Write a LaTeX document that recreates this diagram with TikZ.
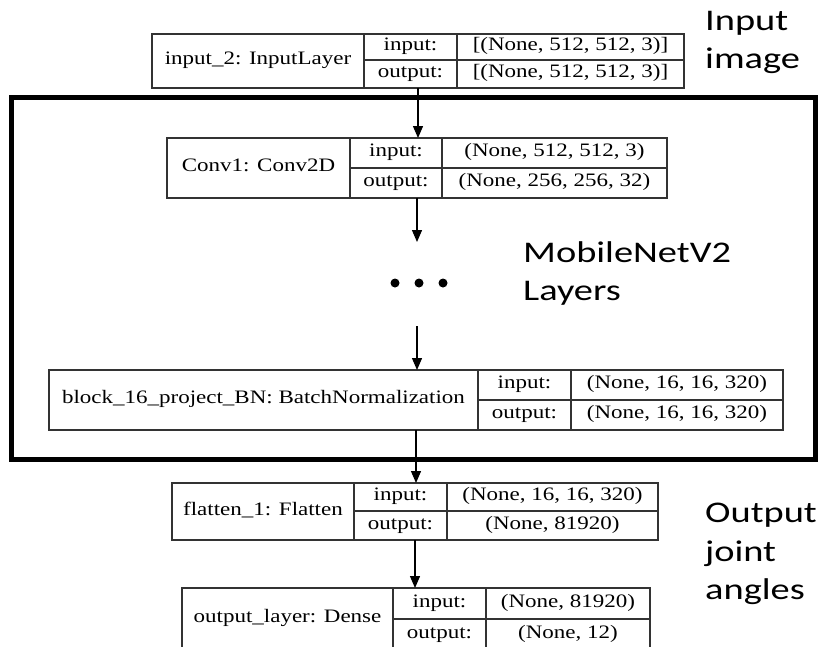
\documentclass[tikz,border=0pt]{standalone}
\usepackage{fontspec}
\usetikzlibrary{arrows.meta}
\newfontfamily\kerasfont[FakeStretch=1.21]{Liberation Serif}
\newfontfamily\notefont[FakeStretch=1.28]{Carlito}

\tikzset{
  layerbox/.style={draw=black!80, line width=1.2pt, inner sep=0pt, outer sep=0pt, anchor=north west},
  cell/.style={draw=black!80, line width=1.2pt},
  celltext/.style={font=\kerasfont\fontsize{19}{19}\selectfont, inner sep=0pt,
                   text height=12pt, text depth=5pt, anchor=center},
  flow/.style={draw=black, line width=1.3pt, -{Triangle[length=12pt,width=10pt]}},
  note/.style={font=\notefont\fontsize{30}{36}\selectfont, inner sep=0pt, anchor=base west},
  groupframe/.style={draw=black, line width=5pt, inner sep=0pt, outer sep=0pt, anchor=north west},
  dot/.style={fill=black},
}

% Keras-style layer record: name | input:/output: | shapes
% #1 node name; #2 left; #3 first divider; #4 second divider; #5 right;
% #6 top; #7 row split; #8 bottom
\newcommand{\layergrid}[8]{%
  \node[layerbox, minimum width={#5-#2}, minimum height={#8-#6}] (#1) at (#2,#6) {};
  \draw[cell] (#3,#6) -- (#3,#8) (#4,#6) -- (#4,#8) (#3,#7) -- (#5,#7);
  \coordinate (#1-name)   at ({(#2+#3)/2},{(#6+#8)/2});
  \coordinate (#1-inkey)  at ({(#3+#4)/2},{(#6+#7)/2});
  \coordinate (#1-inval)  at ({(#4+#5)/2},{(#6+#7)/2});
  \coordinate (#1-outkey) at ({(#3+#4)/2},{(#7+#8)/2});
  \coordinate (#1-outval) at ({(#4+#5)/2},{(#7+#8)/2});
}
% #1 node name; #2 layer label; #3 input shape; #4 output shape
\newcommand{\layertext}[4]{%
  \node[celltext] (#1-label) at (#1-name) {#2};
  \node[celltext] (#1-ik) at (#1-inkey) {input:};
  \node[celltext] (#1-iv) at (#1-inval) {#3};
  \node[celltext] (#1-ok) at (#1-outkey) {output:};
  \node[celltext] (#1-ov) at (#1-outval) {#4};
}

\begin{document}
\begin{tikzpicture}[x=1pt, y=-1pt]
  \clip (0,0) rectangle (818,646);
  \fill[white] (0,0) rectangle (818,646);

  % backbone group
  \node[groupframe, minimum width=804, minimum height=362] (backbone) at (11,97) {};

  % layers
  \layergrid{inp}{152}{364}{457}{684}{34}{60}{88}
  \layertext{inp}{input\_2: InputLayer}{[(None, 512, 512, 3)]}{[(None, 512, 512, 3)]}

  \layergrid{conv}{167}{350}{442}{667}{138}{168}{198}
  \layertext{conv}{Conv1: Conv2D}{(None, 512, 512, 3)}{(None, 256, 256, 32)}

  \layergrid{bn}{49}{478}{571}{783}{370}{400}{430}
  \layertext{bn}{block\_16\_project\_BN: BatchNormalization}{(None, 16, 16, 320)}{(None, 16, 16, 320)}

  \layergrid{flat}{172}{354}{447}{658}{483}{511}{540}
  \layertext{flat}{flatten\_1: Flatten}{(None, 16, 16, 320)}{(None, 81920)}

  \layergrid{dense}{182}{393}{486}{650}{588}{619}{650}
  \layertext{dense}{output\_layer: Dense}{(None, 81920)}{(None, 12)}

  % elided layers
  \coordinate (gapTop) at (417,242);
  \coordinate (gapBot) at (417,326);
  \fill[dot] (395,283) circle (4.5) (419,283) circle (4.5) (443,283) circle (4.5);

  % connections
  \draw[flow] (inp.south) -- (inp.south |- conv.north);
  \draw[flow] (conv.south) -- (conv.south |- gapTop);
  \draw[flow] (gapBot) -- (gapBot |- bn.north);
  \draw[flow] (bn.south) -- (bn.south |- flat.north);
  \draw[flow] (flat.south) -- (flat.south |- dense.north);

  % annotations
  \node[note] (noteIn1) at (705,30) {Input};
  \node[note] (noteIn2) at (705,68) {image};
  \node[note] (noteMid1) at (523,262) {MobileNetV2};
  \node[note] (noteMid2) at (523,300) {Layers};
  \node[note] (noteOut1) at (705,522) {Output};
  \node[note] (noteOut2) at (705,561) {joint};
  \node[note] (noteOut3) at (705,599) {angles};
\end{tikzpicture}
\end{document}
